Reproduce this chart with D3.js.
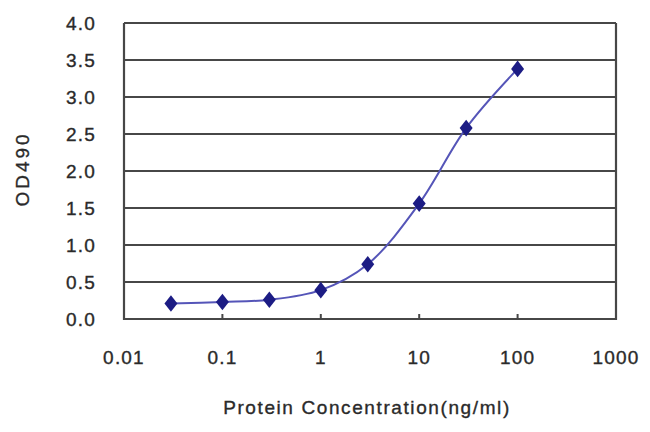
<!DOCTYPE html>
<html><head><meta charset="utf-8">
<script src="https://cdn.jsdelivr.net/npm/d3@7"></script>
<style>body{margin:0;background:#fff}svg{display:block}text{font-family:"Liberation Sans",Arial,sans-serif;fill:#2a2a2a;stroke:#2a2a2a;stroke-width:0.35px}</style>
</head><body>
<script>
const concentrations = [0.03, 0.1, 0.3, 1, 3, 10, 30, 100];
const odValues = [0.21, 0.23, 0.26, 0.39, 0.74, 1.56, 2.58, 3.38];
const xTicks = [0.01, 0.1, 1, 10, 100, 1000];
const xTickLabels = ["0.01", "0.1", "1", "10", "100", "1000"];
const yTicks = [0, 0.5, 1, 1.5, 2, 2.5, 3, 3.5, 4];
const yTickLabels = ["0.0", "0.5", "1.0", "1.5", "2.0", "2.5", "3.0", "3.5", "4.0"];

const W = 650, H = 432;
const m = {left: 124, right: 34, top: 23, bottom: 113};
const svg = d3.select("body").append("svg").attr("width", W).attr("height", H);
const x = d3.scaleLog().domain([0.01, 1000]).range([m.left, W - m.right]);
const y = d3.scaleLinear().domain([0, 4]).range([H - m.bottom, m.top]);

// gridlines
svg.append("g").selectAll("line").data(yTicks.slice(1)).join("line")
  .attr("x1", m.left).attr("x2", W - m.right)
  .attr("y1", d => y(d)).attr("y2", d => y(d))
  .attr("stroke", "#474747").attr("stroke-width", 2.2);

// axes frame
svg.append("path")
  .attr("d", `M${m.left},${m.top}V${H - m.bottom}H${W - m.right}V${m.top}`)
  .attr("fill", "none").attr("stroke", "#474747").attr("stroke-width", 2.2);

// x ticks (inward)
svg.append("g").selectAll("line").data(xTicks.slice(1, -1)).join("line")
  .attr("x1", d => x(d)).attr("x2", d => x(d))
  .attr("y1", H - m.bottom).attr("y2", H - m.bottom - 5)
  .attr("stroke", "#474747").attr("stroke-width", 2);

// tick labels
svg.append("g").selectAll("text").data(yTicks).join("text")
  .attr("x", 96).attr("y", d => y(d)).attr("dy", "0.36em")
  .attr("text-anchor", "end").attr("font-size", 19).attr("letter-spacing", 1.2)
  .text((d, i) => yTickLabels[i]);
svg.append("g").selectAll("text").data(xTicks).join("text")
  .attr("x", d => x(d)).attr("y", 364)
  .attr("text-anchor", "middle").attr("font-size", 19).attr("letter-spacing", 1.2)
  .text((d, i) => xTickLabels[i]);

// axis titles
svg.append("text").attr("transform", `translate(29,169) rotate(-90)`)
  .attr("text-anchor", "middle").attr("font-size", 19).attr("letter-spacing", 3).text("OD490");
svg.append("text").attr("x", 367).attr("y", 414)
  .attr("text-anchor", "middle").attr("font-size", 19).attr("letter-spacing", 1.6)
  .text("Protein Concentration(ng/ml)");

// line
const pts = concentrations.map((c, i) => [c, odValues[i]]);
svg.append("path").datum(pts)
  .attr("d", d3.line().x(d => x(d[0])).y(d => y(d[1])).curve(d3.curveCatmullRom.alpha(0.5)))
  .attr("fill", "none").attr("stroke", "#5555b8").attr("stroke-width", 2);

// diamond markers
svg.append("g").selectAll("path").data(pts).join("path")
  .attr("transform", d => `translate(${x(d[0])},${y(d[1])}) scale(1.35,1)`)
  .attr("d", d3.symbol().type(d3.symbolDiamond).size(80))
  .attr("fill", "#1c1c84");
</script>
</body></html>
